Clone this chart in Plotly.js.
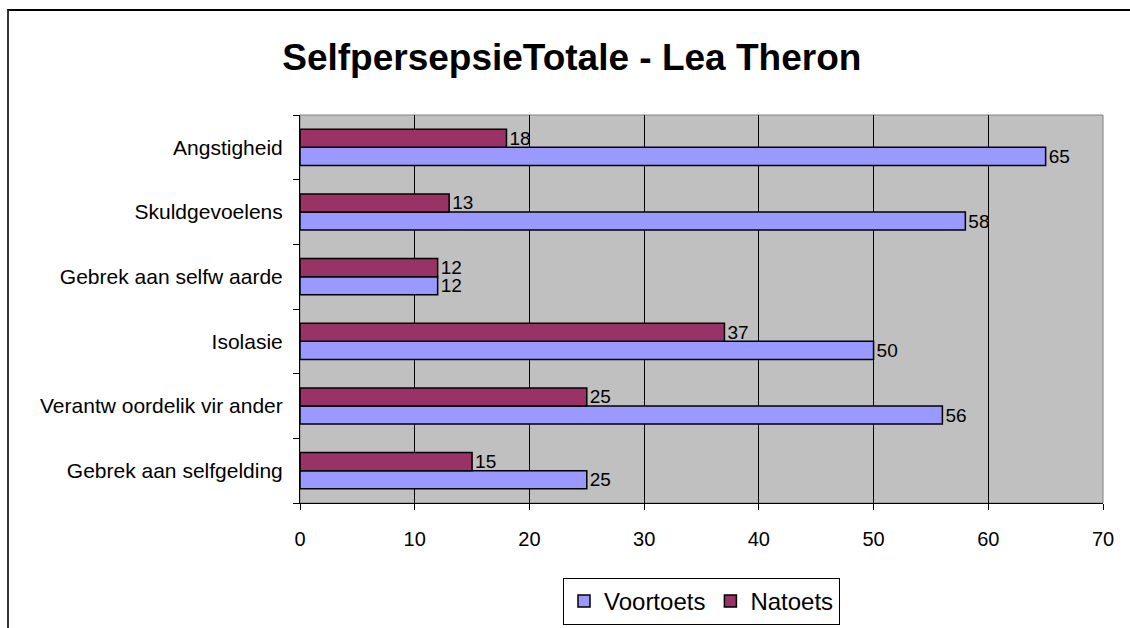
<!DOCTYPE html>
<html>
<head>
<meta charset="utf-8">
<script src="https://cdn.plot.ly/plotly-3.0.1.min.js"></script>
<style>
  html, body { margin: 0; padding: 0; background: #ffffff; }
  #frame { position: absolute; left: 7px; top: 9px; width: 1200px; height: 700px;
           border-left: 2px solid #333333; border-top: 2px solid #000000; }
  #chart { position: absolute; left: 0; top: 0; width: 1130px; height: 628px; }
</style>
</head>
<body>
<div id="frame"></div>
<div id="chart"></div>
<script>
// Categories listed bottom-to-top (as the source chart plots them)
const categories = [
  "Gebrek aan selfgelding",
  "Verantw oordelik vir ander",
  "Isolasie",
  "Gebrek aan selfw aarde",
  "Skuldgevoelens",
  "Angstigheid"
];
const voortoets = [25, 56, 50, 12, 58, 65];
const natoets   = [15, 25, 37, 12, 13, 18];
const xTicks = [0, 10, 20, 30, 40, 50, 60, 70];

const FONT = "Liberation Sans, Arial, sans-serif";

const traces = [
  {
    type: "bar", orientation: "h", name: "Voortoets",
    y: categories, x: voortoets,
    marker: { color: "#9999FF", line: { color: "#000000", width: 1.5 } },
    text: voortoets.map(String), textposition: "outside",
    textfont: { family: FONT, size: 19, color: "#000000" },
    constraintext: "none", cliponaxis: false, hoverinfo: "x+y"
  },
  {
    type: "bar", orientation: "h", name: "Natoets",
    y: categories, x: natoets,
    marker: { color: "#993366", line: { color: "#000000", width: 1.5 } },
    text: natoets.map(String), textposition: "outside",
    textfont: { family: FONT, size: 19, color: "#000000" },
    constraintext: "none", cliponaxis: false, hoverinfo: "x+y"
  }
];

const layout = {
  width: 1130, height: 628,
  margin: { l: 300, r: 27, t: 115, b: 125, autoexpand: false },
  paper_bgcolor: "rgba(0,0,0,0)",
  plot_bgcolor: "#C0C0C0",
  barmode: "group",
  bargap: 0.44,
  bargroupgap: 0,
  showlegend: true,
  title: {
    text: "<b>SelfpersepsieTotale - Lea Theron</b>",
    font: { family: FONT, size: 37, color: "#000000" },
    x: 0.506, xref: "container", xanchor: "center",
    y: 0.909, yref: "container", yanchor: "middle"
  },
  xaxis: {
    range: [0, 70],
    tickvals: xTicks,
    ticktext: xTicks.map(String),
    showgrid: true, gridcolor: "#000000", gridwidth: 1,
    zeroline: false,
    showline: true, linecolor: "#000000", linewidth: 1,
    ticks: "outside", ticklen: 6, tickcolor: "#000000",
    ticklabelstandoff: 12,
    tickfont: { family: FONT, size: 20, color: "#000000" },
    automargin: false,
    fixedrange: true
  },
  yaxis: {
    type: "category",
    showgrid: false,
    zeroline: false,
    showline: true, linecolor: "#000000", linewidth: 1,
    ticks: "outside", ticklen: 6, tickcolor: "#000000",
    tickson: "boundaries",
    ticklabelstandoff: 12,
    tickfont: { family: FONT, size: 21, color: "#000000" },
    automargin: false,
    fixedrange: true
  },
  legend: {
    orientation: "h",
    x: 0.5, xanchor: "center",
    y: -0.193, yanchor: "top",
    bgcolor: "#FFFFFF", bordercolor: "#000000", borderwidth: 1,
    font: { family: FONT, size: 24, color: "#000000" },
    traceorder: "normal"
  },
  shapes: [
    { type: "rect", xref: "paper", yref: "paper", x0: 0, x1: 1, y0: 0, y1: 1,
      line: { color: "#808080", width: 1 }, layer: "below" }
  ]
};

Plotly.newPlot("chart", traces, layout, { displayModeBar: false, staticPlot: true });
</script>
</body>
</html>
